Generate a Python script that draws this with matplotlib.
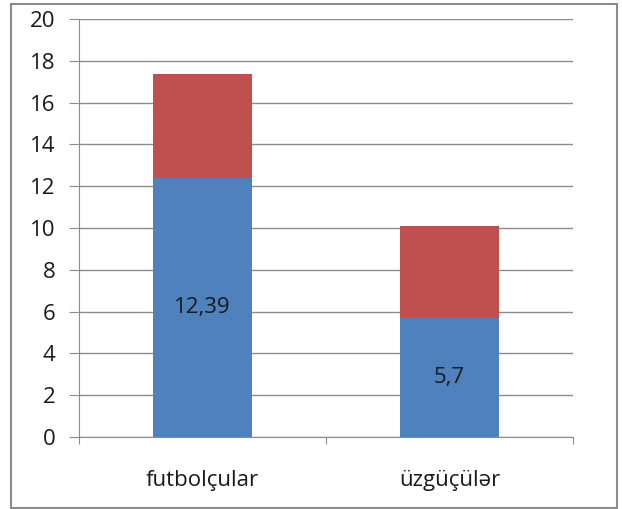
import matplotlib
matplotlib.use("Agg")
import matplotlib.pyplot as plt
from matplotlib.patches import Rectangle

categories = ["futbolçular", "üzgüçülər"]
lower_values = [12.39, 5.7]
upper_values = [5.0, 4.4]
lower_labels = ["12,39", "5,7"]
y_ticks = [0, 2, 4, 6, 8, 10, 12, 14, 16, 18, 20]

plt.rcParams["font.family"] = ["Open Sans", "DejaVu Sans"]
FS = 16

fig = plt.figure(figsize=(6.22, 5.09), dpi=100)
fig.patch.set_facecolor("white")
fig.patches.append(Rectangle((11 / 622, 1 - 508 / 509), 606 / 622, 504 / 509,
                             transform=fig.transFigure, fill=False,
                             edgecolor="#8c8c8c", linewidth=1.5))

ax = fig.add_axes([79 / 622, 1 - 437 / 509, 494 / 622, 418 / 509])
x = list(range(len(categories)))
ax.bar(x, lower_values, width=0.4, color="#4F81BD", zorder=3)
ax.bar(x, upper_values, width=0.4, bottom=lower_values, color="#C0504D", zorder=3)

for xi, v, lab in zip(x, lower_values, lower_labels):
    ax.text(xi, v / 2, lab, ha="center", va="center", fontsize=FS,
            color="#1a1a1a", zorder=4)

ax.set_xlim(-0.5, 1.5)
ax.set_ylim(0, 20)
ax.set_yticks(y_ticks)
ax.set_yticklabels([str(t) for t in y_ticks], fontsize=FS, color="#1a1a1a")
ax.yaxis.grid(True, color="#8c8c8c", linewidth=1, zorder=0)
ax.set_axisbelow(True)

ax.set_xticks([-0.5, 0.5, 1.5])
ax.set_xticklabels([])
ax.set_xticks(x, minor=True)
ax.set_xticklabels(categories, minor=True, fontsize=FS, color="#1a1a1a")
ax.tick_params(axis="x", which="minor", length=0, pad=24)
ax.tick_params(axis="x", which="major", length=5, color="#8c8c8c", direction="out")
ax.tick_params(axis="y", length=7, color="#8c8c8c", pad=10)

for side in ("top", "right"):
    ax.spines[side].set_visible(False)
for side in ("left", "bottom"):
    ax.spines[side].set_color("#8c8c8c")

fig.savefig("out.png", dpi=100)
